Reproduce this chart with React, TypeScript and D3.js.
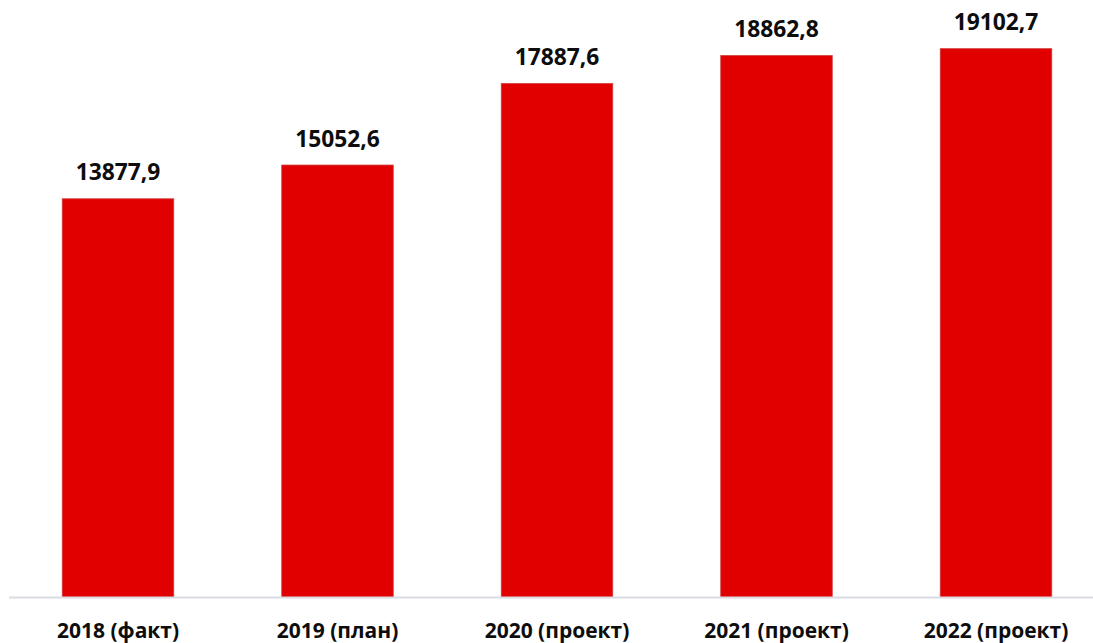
import React from "react";
import * as d3 from "d3";

const categories = ["2018 (факт)", "2019 (план)", "2020 (проект)", "2021 (проект)", "2022 (проект)"];
const values = [13877.9, 15052.6, 17887.6, 18862.8, 19102.7];

const W = 1093;
const H = 643;

export default function App() {
  const x = d3.scaleBand<string>().domain(categories).range([8.25, 1105.75]).paddingInner(0.494).paddingOuter(0.247);
  const y = d3.scaleLinear().domain([0, 20000]).range([597.5, 22.9]);
  const fmt = (v: number) => v.toFixed(1).replace(".", ",");
  const bw = 111.5;
  const cx = (c: string) => (x(c) as number) + x.bandwidth() / 2;
  return (
    <div style={{ position: "fixed", left: 0, top: 0, width: W, height: H, background: "#fff" }}>
      <svg width={W} height={H} style={{ display: "block" }} fontFamily="'Open Sans', sans-serif">
        {categories.map((c, i) => (
          <rect
            key={c}
            x={cx(c) - bw / 2}
            y={y(values[i])}
            width={bw}
            height={y(0) - y(values[i])}
            fill="#e00000"
            stroke="#d23a3a"
            strokeWidth={0.8}
          />
        ))}
        <line x1={9} x2={1093} y1={597.5} y2={597.5} stroke="#d9dce1" strokeWidth={2} />
        {categories.map((c, i) => (
          <text key={"v" + c} x={cx(c)} y={y(values[i]) - 18.5} textAnchor="middle" fontSize={22.8} fontWeight={700} fill="#0d0d0d">
            {fmt(values[i])}
          </text>
        ))}
        {categories.map((c) => (
          <text key={"c" + c} x={cx(c)} y={638.3} textAnchor="middle" fontSize={21} fontWeight={700} fill="#0d0d0d">
            {c}
          </text>
        ))}
      </svg>
    </div>
  );
}
